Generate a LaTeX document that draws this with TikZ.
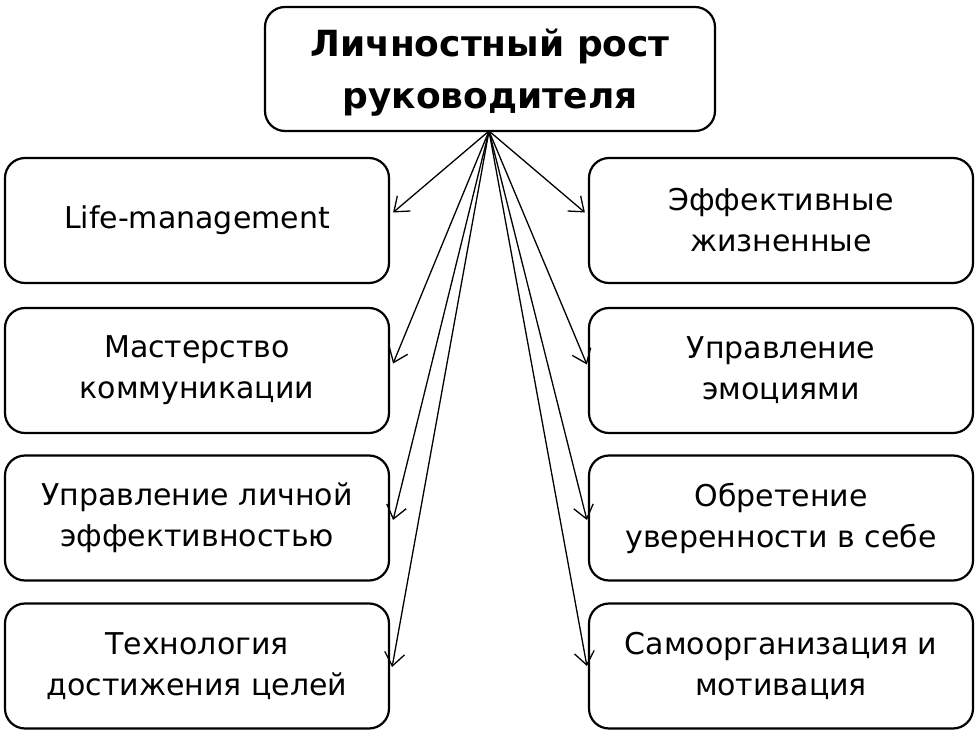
\documentclass[tikz,border=0pt]{standalone}
\usepackage{fontspec}
\setmainfont{DejaVu Sans}
\usetikzlibrary{arrows.meta,calc}
\begin{document}
\begin{tikzpicture}[x=1pt,y=-1pt,
  box/.style={draw,line width=2.2pt,rounded corners=20pt,minimum width=384pt,minimum height=125pt,inner sep=0pt,align=center,font=\fontsize{30}{41}\selectfont},
  topbox/.style={draw,line width=2.2pt,rounded corners=20pt,minimum width=450pt,minimum height=124pt,inner sep=0pt,align=center,font=\fontsize{36}{52}\selectfont\bfseries},
  arr/.style={line width=1.3pt,-{Straight Barb[length=13pt,width=20pt,line width=1.3pt]}}]
\useasboundingbox (0,0) rectangle (978,738);
\node[topbox] (T) at (490,69) {};
\node[align=center,inner sep=0pt,font=\fontsize{36}{52}\selectfont\bfseries] (Tt) at (490,73) {Личностный рост\\руководителя};
\node[box] (L1) at (197,220.5) {Life-management};
\node[box] (L2) at (197,370.5) {Мастерство\\коммуникации};
\node[box] (L3) at (197,518) {Управление личной\\эффективностью};
\node[box] (L4) at (197,666) {Технология\\достижения целей};
\node[box] (R1) at (781,220.5) {Эффективные\\жизненные};
\node[box] (R2) at (781,370.5) {Управление\\эмоциями};
\node[box] (R3) at (781,518) {Обретение\\уверенности в себе};
\node[box] (R4) at (781,666) {Самоорганизация и\\мотивация};
\coordinate (o) at (489,131);
\draw[arr] (o) -- ($(L1.east)+(3,-8)$);
\draw[arr] (o) -- ($(L2.east)+(3,-7)$);
\draw[arr] (o) -- ($(L3.east)+(3,2)$);
\draw[arr] (o) -- ($(L4.east)+(2,1)$);
\draw[arr] (o) -- ($(R1.west)+(-3,-8)$);
\draw[arr] (o) -- ($(R2.west)+(-1,-6)$);
\draw[arr] (o) -- ($(R3.west)+(-1,2)$);
\draw[arr] (o) -- ($(R4.west)+(-1,0)$);
\end{tikzpicture}
\end{document}
